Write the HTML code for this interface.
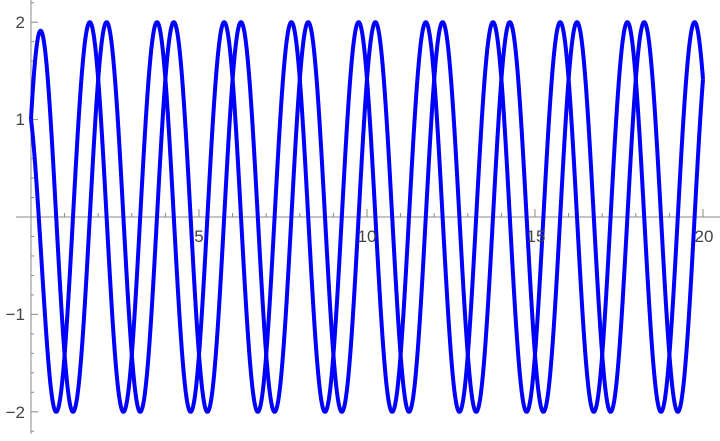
<!DOCTYPE html>
<html><head><meta charset="utf-8"><style>html,body{margin:0;padding:0;background:#fff}</style></head>
<body>
<svg id="s" width="720" height="436" viewBox="0 0 720 436" xmlns="http://www.w3.org/2000/svg" font-family="Liberation Sans, DejaVu Sans, sans-serif" font-size="17" fill="#444">
<g id="ax" stroke="#888" stroke-width="1"></g>
<path id="a" fill="none" stroke="#0000ff" stroke-width="4" stroke-linejoin="round"/>
<path id="b" fill="none" stroke="#0000ff" stroke-width="4" stroke-linejoin="round"/>
<text x="199" y="242" text-anchor="middle">5</text>
<text x="367" y="242" text-anchor="middle">10</text>
<text x="536" y="242" text-anchor="middle">15</text>
<text x="704" y="242" text-anchor="middle">20</text>
<text x="25" y="28" text-anchor="end">2</text>
<text x="25" y="125" text-anchor="end">1</text>
<text x="25" y="320" text-anchor="end">−1</text>
<text x="25" y="418" text-anchor="end">−2</text>
</svg>
<script>
var X0=31,SX=33.6,Y0=217,SY=97.4;
function px(x){return X0+x*SX}function py(y){return Y0-y*SY}
var ax=document.getElementById('ax'),h='';
h+='<line x1="16" y1="217" x2="720" y2="217"/><line x1="31" y1="0" x2="31" y2="434"/>';
for(var i=1;i<=20;i++){var x=px(i);h+='<line x1="'+x+'" y1="217" x2="'+x+'" y2="'+(i%5?213:209)+'"/>';}
for(var k=-11;k<=11;k++){if(k==0)continue;var y=py(k*0.2);h+='<line x1="31" y1="'+y+'" x2="'+(k%5?34:38)+'" y2="'+y+'"/>';}
ax.innerHTML=h;
function mk(ph){var d='';for(var i=0;i<=2000;i++){var x=i/100;var y=2*Math.cos(Math.PI*(x-ph));
 var w=Math.max(0,1-x/0.5);y=y-0.41*w*w;
 d+=(i?'L':'M')+px(x).toFixed(2)+' '+py(y).toFixed(2);}return d;}
document.getElementById('a').setAttribute('d',mk(1.75));
document.getElementById('b').setAttribute('d',mk(2.25));
</script>
</body></html>
